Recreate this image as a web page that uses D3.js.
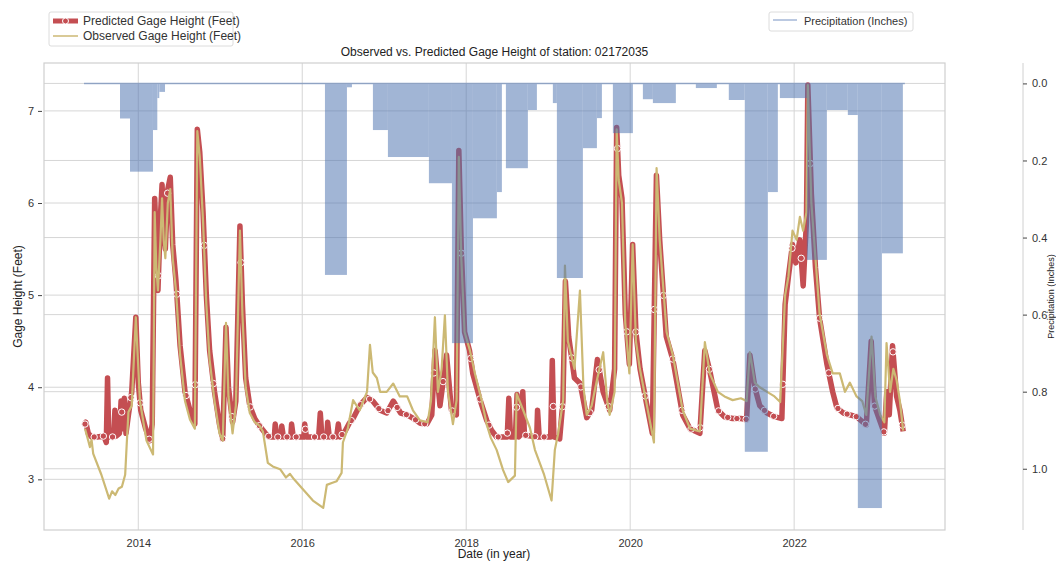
<!DOCTYPE html>
<html>
<head>
<meta charset="utf-8">
<script src="https://cdn.jsdelivr.net/npm/d3@7"></script>
<style>
  html, body { margin: 0; padding: 0; background: #fff; }
  svg { display: block; font-family: "Liberation Sans", Arial, sans-serif; }
</style>
</head>
<body>
<script>
// ---- data (decimal years, feet / inches) ----
const yearTicks = [2014, 2016, 2018, 2020, 2022];
const gageTicks = [3, 4, 5, 6, 7];
const precipTicks = [0.0, 0.2, 0.4, 0.6, 0.8, 1.0];

const predicted = [
  [2013.34,3.58],[2013.36,3.62],[2013.39,3.50],[2013.43,3.46],[2013.50,3.46],[2013.58,3.47],[2013.61,3.40],
  [2013.625,4.10],[2013.64,3.46],[2013.70,3.46],[2013.715,3.75],[2013.73,3.47],[2013.77,3.50],[2013.79,3.85],
  [2013.81,3.55],[2013.83,3.88],[2013.85,3.50],[2013.88,3.70],[2013.92,3.95],[2013.97,4.76],[2014.00,4.05],
  [2014.03,3.75],[2014.09,3.55],[2014.14,3.42],[2014.17,3.60],[2014.20,6.05],[2014.22,5.60],[2014.24,5.05],
  [2014.27,5.85],[2014.29,6.20],[2014.31,5.70],[2014.33,5.50],[2014.36,6.15],[2014.39,6.28],[2014.42,5.55],
  [2014.46,5.15],[2014.51,4.45],[2014.57,3.95],[2014.63,3.75],[2014.69,3.60],[2014.72,6.80],[2014.75,6.55],
  [2014.79,5.90],[2014.83,5.00],[2014.87,4.40],[2014.93,3.95],[2014.99,3.60],[2015.03,3.44],[2015.07,4.65],
  [2015.10,4.00],[2015.15,3.62],[2015.19,3.85],[2015.24,5.75],[2015.27,4.90],[2015.31,4.10],[2015.36,3.80],
  [2015.42,3.66],[2015.48,3.58],[2015.55,3.50],[2015.60,3.46],[2015.66,3.46],[2015.67,3.60],[2015.69,3.46],
  [2015.74,3.46],[2015.75,3.58],[2015.77,3.46],[2015.86,3.46],[2015.87,3.60],[2015.89,3.46],[2016.02,3.46],
  [2016.03,3.60],[2016.05,3.46],[2016.20,3.46],[2016.22,3.72],[2016.24,3.46],[2016.30,3.46],[2016.31,3.62],
  [2016.33,3.46],[2016.42,3.46],[2016.44,3.60],[2016.46,3.46],[2016.52,3.52],[2016.58,3.62],[2016.62,3.66],
  [2016.70,3.80],[2016.79,3.89],[2016.86,3.85],[2016.95,3.75],[2017.03,3.72],[2017.11,3.85],[2017.20,3.72],
  [2017.28,3.70],[2017.36,3.66],[2017.44,3.61],[2017.52,3.60],[2017.58,3.70],[2017.62,4.40],[2017.68,3.80],
  [2017.76,4.35],[2017.82,3.75],[2017.88,3.70],[2017.91,6.57],[2017.94,5.50],[2017.98,4.60],[2018.04,4.40],
  [2018.08,4.15],[2018.17,3.86],[2018.25,3.64],[2018.31,3.53],[2018.37,3.46],[2018.50,3.46],[2018.52,3.88],
  [2018.54,3.46],[2018.60,3.46],[2018.62,3.92],[2018.64,3.46],[2018.68,3.50],[2018.69,3.95],[2018.71,3.48],
  [2018.86,3.46],[2018.87,3.75],[2018.89,3.46],[2019.03,3.46],[2019.05,4.29],[2019.07,3.46],[2019.14,3.44],
  [2019.18,3.85],[2019.21,5.15],[2019.25,4.55],[2019.32,4.10],[2019.39,4.04],[2019.47,3.67],[2019.53,3.75],
  [2019.60,4.30],[2019.67,3.95],[2019.75,3.75],[2019.81,4.20],[2019.835,6.82],[2019.86,6.30],[2019.90,6.05],
  [2019.94,4.80],[2019.99,4.25],[2020.03,5.55],[2020.07,4.60],[2020.12,4.20],[2020.20,3.82],[2020.27,3.50],
  [2020.32,6.30],[2020.36,5.60],[2020.44,4.55],[2020.52,4.30],[2020.64,3.70],[2020.73,3.55],[2020.85,3.50],
  [2020.91,4.40],[2020.97,4.18],[2021.07,3.75],[2021.15,3.68],[2021.25,3.66],[2021.35,3.66],[2021.42,3.65],
  [2021.46,4.35],[2021.52,4.00],[2021.58,3.80],[2021.67,3.72],[2021.76,3.68],[2021.85,3.66],[2021.89,4.90],
  [2021.93,5.20],[2021.98,5.55],[2022.02,5.35],[2022.07,5.60],[2022.11,5.10],[2022.15,5.80],[2022.167,7.28],
  [2022.21,6.10],[2022.26,5.30],[2022.31,4.75],[2022.40,4.25],[2022.47,3.95],[2022.52,3.78],[2022.60,3.72],
  [2022.68,3.70],[2022.76,3.68],[2022.88,3.59],[2022.94,4.50],[2022.98,3.80],[2023.04,3.65],[2023.10,3.50],
  [2023.13,3.95],[2023.16,3.70],[2023.20,4.45],[2023.25,3.90],[2023.29,3.75],[2023.33,3.52]
];

const observed = [
  [2013.35,3.55],[2013.39,3.42],[2013.41,3.35],[2013.43,3.43],[2013.45,3.28],[2013.55,3.05],[2013.645,2.79],
  [2013.68,2.87],[2013.72,2.83],[2013.76,2.90],[2013.80,2.92],[2013.84,3.05],[2013.86,3.40],[2013.88,3.73],
  [2013.92,3.80],[2013.97,4.76],[2014.02,3.85],[2014.10,3.42],[2014.18,3.27],[2014.20,5.90],[2014.22,5.30],
  [2014.24,5.05],[2014.27,5.60],[2014.29,6.05],[2014.31,5.60],[2014.33,5.40],[2014.36,6.00],[2014.39,6.15],
  [2014.42,5.40],[2014.46,5.05],[2014.51,4.35],[2014.57,3.85],[2014.63,3.65],[2014.69,3.55],[2014.72,6.78],
  [2014.75,6.50],[2014.79,5.80],[2014.83,4.90],[2014.87,4.30],[2014.93,3.85],[2014.99,3.50],[2015.03,3.42],
  [2015.07,4.70],[2015.10,3.90],[2015.15,3.50],[2015.19,3.80],[2015.24,5.70],[2015.27,4.80],[2015.31,4.00],
  [2015.36,3.72],[2015.42,3.62],[2015.48,3.58],[2015.52,3.52],[2015.58,3.18],[2015.64,3.14],[2015.73,3.11],
  [2015.80,3.02],[2015.85,3.06],[2015.90,3.00],[2016.00,2.90],[2016.13,2.77],[2016.256,2.69],[2016.30,2.94],
  [2016.36,2.96],[2016.42,2.98],[2016.48,3.07],[2016.496,3.40],[2016.555,3.55],[2016.62,3.86],[2016.70,3.75],
  [2016.79,3.95],[2016.826,4.46],[2016.86,4.16],[2016.91,4.10],[2016.95,3.95],[2017.03,3.95],[2017.11,4.04],
  [2017.19,3.90],[2017.28,3.90],[2017.35,3.75],[2017.435,3.64],[2017.53,3.62],[2017.57,3.85],[2017.618,4.76],
  [2017.655,3.95],[2017.70,4.20],[2017.74,4.78],[2017.777,3.95],[2017.838,3.60],[2017.883,3.86],[2017.91,6.50],
  [2017.94,5.40],[2017.98,4.60],[2018.045,4.40],[2018.106,4.15],[2018.188,3.86],[2018.249,3.60],[2018.30,3.45],
  [2018.371,3.32],[2018.45,3.10],[2018.512,2.97],[2018.594,3.04],[2018.615,3.93],[2018.695,3.75],[2018.777,3.56],
  [2018.838,3.32],[2018.95,3.05],[2019.041,2.77],[2019.081,3.32],[2019.122,3.50],[2019.183,3.86],[2019.204,5.32],
  [2019.24,4.50],[2019.32,4.20],[2019.387,5.05],[2019.43,4.00],[2019.47,3.70],[2019.53,3.80],[2019.60,4.10],
  [2019.671,4.38],[2019.72,3.85],[2019.75,3.70],[2019.81,3.95],[2019.835,6.80],[2019.86,6.25],[2019.90,6.00],
  [2019.94,4.70],[2019.99,4.15],[2020.03,5.55],[2020.07,4.50],[2020.118,4.20],[2020.20,3.82],[2020.29,3.40],
  [2020.322,6.38],[2020.36,5.60],[2020.444,4.60],[2020.52,4.35],[2020.64,3.75],[2020.73,3.55],[2020.85,3.52],
  [2020.911,4.49],[2020.97,4.15],[2021.07,3.95],[2021.15,3.90],[2021.25,3.86],[2021.35,3.88],[2021.42,3.85],
  [2021.46,4.38],[2021.52,4.05],[2021.58,4.00],[2021.67,3.95],[2021.76,3.90],[2021.83,3.84],[2021.89,5.00],
  [2021.93,5.20],[2021.98,5.70],[2022.03,5.60],[2022.07,5.85],[2022.11,5.70],[2022.15,5.90],[2022.167,7.28],
  [2022.21,6.00],[2022.26,5.40],[2022.31,4.80],[2022.40,4.35],[2022.47,4.15],[2022.557,4.15],[2022.62,3.95],
  [2022.68,4.05],[2022.761,3.90],[2022.83,3.85],[2022.88,3.70],[2022.944,4.55],[2022.99,3.90],[2023.05,3.70],
  [2023.10,3.62],[2023.127,4.48],[2023.17,3.95],[2023.21,4.20],[2023.249,4.08],[2023.29,3.85],[2023.33,3.53]
];

// precipitation: [start year, end year, inches]
const precipBars = [
  [2013.777,2013.899,0.091],[2013.899,2014.179,0.229],[2014.179,2014.232,0.121],[2014.232,2014.256,0.038],
  [2014.256,2014.326,0.022],[2016.277,2016.545,0.497],[2016.545,2016.606,0.010],[2016.862,2017.045,0.121],
  [2017.045,2017.545,0.191],[2017.545,2017.826,0.259],[2017.826,2018.082,0.674],[2018.082,2018.374,0.350],
  [2018.374,2018.435,0.282],[2018.484,2018.752,0.220],[2018.752,2018.862,0.069],[2019.057,2019.106,0.051],
  [2019.106,2019.423,0.505],[2019.423,2019.594,0.168],[2019.594,2019.655,0.090],[2019.789,2020.033,0.129],
  [2020.155,2020.277,0.041],[2020.277,2020.557,0.051],[2020.801,2021.057,0.012],[2021.203,2021.398,0.043],
  [2021.398,2021.679,0.956],[2021.679,2021.801,0.282],[2021.826,2022.155,0.038],[2022.155,2022.399,0.458],
  [2022.399,2022.655,0.069],[2022.655,2022.777,0.082],[2022.777,2023.070,1.102],[2023.070,2023.326,0.441]
];
const precipSpan = [2013.338, 2023.350];
const markerStart = 2013.35, markerStep = 0.112;

// ---- layout ----
const W = 1056, H = 562;
const plot = { left: 44, right: 945, top: 63, bottom: 530 };
const red = "#c44e52", gold = "#ccb974", blue = "#4c72b0";
const gridColor = "#d6d6d6", textColor = "#333";

const svg = d3.select("body").append("svg").attr("width", W).attr("height", H);

const x = d3.scaleLinear().domain([2012.85, 2023.84]).range([plot.left, plot.right]);
const yL = d3.scaleLinear().domain([2.45, 7.52]).range([plot.bottom, plot.top]);
const yR = d3.scaleLinear().domain([-0.053, 1.159]).range([plot.top, plot.bottom]);

// grid
const grid = svg.append("g");
grid.selectAll("line.gx").data(yearTicks).join("line")
  .attr("x1", d => x(d)).attr("x2", d => x(d))
  .attr("y1", plot.top).attr("y2", plot.bottom)
  .attr("stroke", gridColor).attr("stroke-width", 1);
grid.selectAll("line.gl").data(gageTicks).join("line")
  .attr("x1", plot.left).attr("x2", plot.right)
  .attr("y1", d => yL(d)).attr("y2", d => yL(d))
  .attr("stroke", gridColor).attr("stroke-width", 1);
grid.selectAll("line.gr").data(precipTicks).join("line")
  .attr("x1", plot.left).attr("x2", plot.right)
  .attr("y1", d => yR(d)).attr("y2", d => yR(d))
  .attr("stroke", gridColor).attr("stroke-width", 1);

// frame
svg.append("rect")
  .attr("x", plot.left).attr("y", plot.top)
  .attr("width", plot.right - plot.left).attr("height", plot.bottom - plot.top)
  .attr("fill", "none").attr("stroke", "#cfcfcf").attr("stroke-width", 1.2);

// lines
const line = d3.line().x(d => x(d[0])).y(d => yL(d[1]));
svg.append("path").datum(predicted)
  .attr("d", line).attr("fill", "none")
  .attr("stroke", red).attr("stroke-width", 5.5).attr("stroke-linejoin", "round");

// markers along the predicted line
const bis = d3.bisector(d => d[0]).left;
function predAt(t) {
  const i = Math.max(1, Math.min(predicted.length - 1, bis(predicted, t)));
  const a = predicted[i - 1], b = predicted[i];
  return a[1] + (b[1] - a[1]) * (t - a[0]) / (b[0] - a[0]);
}
const markerYears = d3.range(markerStart, predicted[predicted.length - 1][0], markerStep);
svg.append("g").selectAll("circle").data(markerYears).join("circle")
  .attr("cx", d => x(d)).attr("cy", d => yL(predAt(d)))
  .attr("r", 3.2).attr("fill", red).attr("stroke", "#fff").attr("stroke-width", 1);

svg.append("path").datum(observed)
  .attr("d", line).attr("fill", "none")
  .attr("stroke", gold).attr("stroke-width", 2.2).attr("stroke-linejoin", "round");

// precipitation bars (inverted right axis)
const pg = svg.append("g").attr("opacity", 0.52);
pg.selectAll("rect").data(precipBars).join("rect")
  .attr("x", d => x(d[0])).attr("width", d => x(d[1]) - x(d[0]))
  .attr("y", yR(0)).attr("height", d => yR(d[2]) - yR(0))
  .attr("fill", blue);
pg.append("line")
  .attr("x1", x(precipSpan[0])).attr("x2", x(precipSpan[1]))
  .attr("y1", yR(0)).attr("y2", yR(0))
  .attr("stroke", blue).attr("stroke-width", 1.5);

// axes
const axL = svg.append("g").attr("transform", `translate(${plot.left},0)`)
  .call(d3.axisLeft(yL).tickValues(gageTicks).tickFormat(d3.format("d")).tickSize(4).tickPadding(4));
axL.select(".domain").remove();
axL.selectAll(".tick line").attr("stroke", "#444").attr("transform", "translate(-2,0)");
axL.selectAll(".tick text").attr("fill", textColor).style("font-size", "11px")
  .attr("font-family", "Liberation Sans, Arial, sans-serif").attr("dx", -2);

const axB = svg.append("g").attr("transform", `translate(0,${plot.bottom})`)
  .call(d3.axisBottom(x).tickValues(yearTicks).tickFormat(d3.format("d")).tickSize(0).tickPadding(9));
axB.select(".domain").remove();
axB.selectAll(".tick text").attr("fill", textColor).style("font-size", "11px")
  .attr("font-family", "Liberation Sans, Arial, sans-serif");

const rightX = 1023;
const axR = svg.append("g").attr("transform", `translate(${rightX},0)`)
  .call(d3.axisRight(yR).tickValues(precipTicks).tickFormat(d3.format(".1f")).tickSize(4).tickPadding(5));
axR.select(".domain").attr("stroke", "#d0d0d0").attr("d", `M0,${plot.top}V${plot.bottom}`);
axR.selectAll(".tick line").attr("stroke", "#444");
axR.selectAll(".tick text").attr("fill", textColor).style("font-size", "11px")
  .attr("font-family", "Liberation Sans, Arial, sans-serif");

// labels
svg.append("text").attr("x", (plot.left + plot.right) / 2).attr("y", 56)
  .attr("text-anchor", "middle").attr("fill", "#222").style("font-size", "12px")
  .text("Observed vs. Predicted Gage Height of station: 02172035");
svg.append("text").attr("x", 494).attr("y", 558)
  .attr("text-anchor", "middle").attr("fill", "#222").style("font-size", "12px")
  .text("Date (in year)");
svg.append("text").attr("transform", `translate(22,${(plot.top + plot.bottom) / 2}) rotate(-90)`)
  .attr("text-anchor", "middle").attr("fill", "#222").style("font-size", "12px")
  .text("Gage Height (Feet)");
svg.append("text").attr("transform", `translate(1054,${(plot.top + plot.bottom) / 2}) rotate(-90)`)
  .attr("text-anchor", "middle").attr("fill", "#222").style("font-size", "9px")
  .text("Precipitation (Inches)");

// legend 1
const lg1 = svg.append("g");
lg1.append("rect").attr("x", 49).attr("y", 12).attr("width", 184).attr("height", 34)
  .attr("rx", 2).attr("fill", "#fff").attr("stroke", "#dcdcdc");
lg1.append("line").attr("x1", 53).attr("x2", 78).attr("y1", 21).attr("y2", 21)
  .attr("stroke", red).attr("stroke-width", 5);
lg1.append("circle").attr("cx", 65.5).attr("cy", 21).attr("r", 3)
  .attr("fill", red).attr("stroke", "#fff").attr("stroke-width", 1);
lg1.append("text").attr("x", 83).attr("y", 25).attr("fill", textColor).style("font-size", "12px")
  .text("Predicted Gage Height (Feet)");
lg1.append("line").attr("x1", 53).attr("x2", 78).attr("y1", 36).attr("y2", 36)
  .attr("stroke", gold).attr("stroke-width", 1.5);
lg1.append("text").attr("x", 83).attr("y", 40).attr("fill", textColor).style("font-size", "12px")
  .text("Observed Gage Height (Feet)");

// legend 2
const lg2 = svg.append("g");
lg2.append("rect").attr("x", 769).attr("y", 12).attr("width", 144).attr("height", 19)
  .attr("rx", 2).attr("fill", "#fff").attr("stroke", "#dcdcdc");
lg2.append("line").attr("x1", 773).attr("x2", 797).attr("y1", 20).attr("y2", 20)
  .attr("stroke", blue).attr("stroke-opacity", 0.5).attr("stroke-width", 1.5);
lg2.append("text").attr("x", 804).attr("y", 25).attr("fill", textColor).style("font-size", "11px")
  .text("Precipitation (Inches)");
</script>
</body>
</html>
